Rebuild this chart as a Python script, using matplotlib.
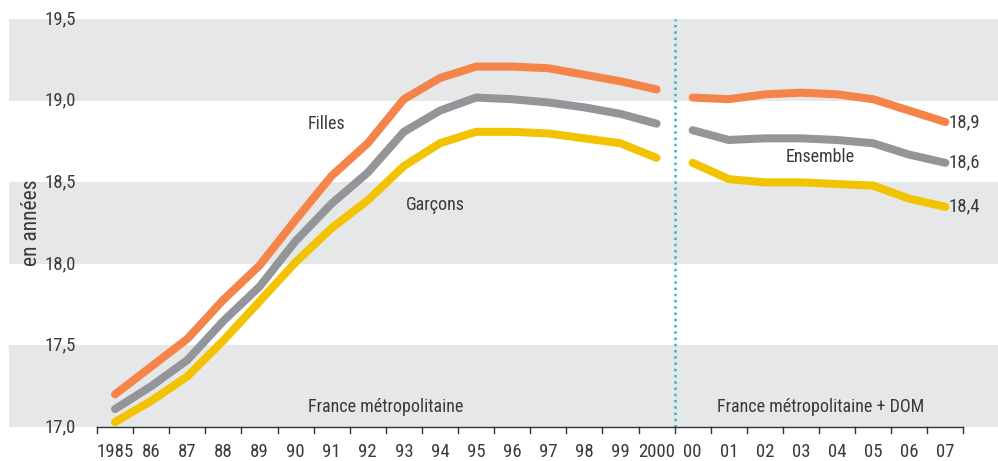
import matplotlib
matplotlib.use('Agg')
import matplotlib.pyplot as plt
import matplotlib.transforms as mtransforms
from matplotlib import font_manager

# Data (age in years)
years = ['1985', '86', '87', '88', '89', '90', '91', '92', '93', '94', '95', '96',
         '97', '98', '99', '2000', '00', '01', '02', '03', '04', '05', '06', '07']
filles = [17.20, 17.37, 17.54, 17.78, 17.99, 18.27, 18.54, 18.74, 19.01, 19.14, 19.21, 19.21,
          19.20, 19.16, 19.12, 19.07, 19.02, 19.01, 19.04, 19.05, 19.04, 19.01, 18.94, 18.87]
ensemble = [17.11, 17.25, 17.41, 17.65, 17.86, 18.14, 18.37, 18.56, 18.81, 18.94, 19.02, 19.01,
            18.99, 18.96, 18.92, 18.86, 18.82, 18.76, 18.77, 18.77, 18.76, 18.74, 18.67, 18.62]
garcons = [17.03, 17.16, 17.31, 17.53, 17.77, 18.01, 18.22, 18.39, 18.60, 18.74, 18.81, 18.81,
           18.80, 18.77, 18.74, 18.65, 18.62, 18.52, 18.50, 18.50, 18.49, 18.48, 18.40, 18.35]
end_labels = ['18,9', '18,6', '18,4']
yticks = [17.0, 17.5, 18.0, 18.5, 19.0, 19.5]

ORANGE = '#F4844A'
GREY = '#939598'
YELLOW = '#F2C300'
BAND = '#E6E7E8'
TXT = '#3A3A3A'
TEAL = '#2BBDC0'

names = {f.name for f in font_manager.fontManager.ttflist}
for cand in ['Liberation Sans Narrow', 'Roboto Condensed', 'DejaVu Sans']:
    if cand in names:
        FONT = cand
        break
plt.rcParams['font.family'] = [FONT, 'DejaVu Sans']
plt.rcParams['font.stretch'] = 'condensed'

W, H = 998, 461
fig = plt.figure(figsize=(W / 100, H / 100), dpi=100)
# axes spans from x=9px to 998px, y from 19px to 427px
ax = fig.add_axes([9 / W, (H - 427) / H, (998 - 9) / W, (427 - 19.3) / H])
ax.set_ylim(17.0, 19.5)
step = 36.1
ax.set_xlim(-0.5 - (97 - 9) / step, -0.5 + (998 - 97) / step)
ax.axis('off')

# grey bands
for lo in [17.0, 18.0, 19.0]:
    ax.axhspan(lo, lo + 0.5, color=BAND, lw=0, zorder=0)

n1 = 16  # metropolitan series 1985-2000
x = list(range(len(years)))
for vals, col in [(filles, ORANGE), (ensemble, GREY), (garcons, YELLOW)]:
    ax.plot(x[:n1], vals[:n1], color=col, lw=5.8, solid_capstyle='round',
            solid_joinstyle='round', clip_on=False, zorder=3)
    ax.plot(x[n1:], vals[n1:], color=col, lw=5.8, solid_capstyle='round',
            solid_joinstyle='round', clip_on=False, zorder=3)

# bottom axis with ticks at category boundaries
ax.plot([-0.5, len(years) - 0.5], [17.0, 17.0], color='#333333', lw=1, clip_on=False, zorder=4)
for b in range(len(years) + 1):
    ax.plot([b - 0.5, b - 0.5], [17.0, 17.0 - 6 / 163.1], color='#333333', lw=1,
            clip_on=False, zorder=4)
for i, lab in enumerate(years):
    ax.text(i, 17.0 - 25 / 163.1, lab, ha='center', va='center', fontsize=13.5, color=TXT)

# separator
ax.plot([n1 - 0.5, n1 - 0.5], [17.0, 19.5], color=TEAL, lw=1.8, ls=(0, (1, 1.5)), zorder=2)

# y tick labels
trans = mtransforms.blended_transform_factory(fig.transFigure, ax.transData)
for t in yticks:
    ax.text(76 / W, t, f'{t:.1f}'.replace('.', ','), transform=trans, ha='right',
            va='center', fontsize=13.5, color=TXT)
fig.text(32 / W, 1 - 223 / H, 'en années', rotation=90, ha='center', va='center',
         fontsize=15.5, color=TXT)

# annotations
ax.text(5.34, 18.86, 'Filles', ha='left', va='center', fontsize=13, color=TXT)
ax.text(8.06, 18.36, 'Garçons', ha='left', va='center', fontsize=13, color=TXT)
ax.text(19.53, 18.655, 'Ensemble', ha='center', va='center', fontsize=13, color=TXT)
ax.text(7.49, 17.12, 'France métropolitaine', ha='center', va='center', fontsize=13, color=TXT)
ax.text(19.54, 17.12, 'France métropolitaine + DOM', ha='center', va='center',
        fontsize=13, color=TXT)
for vals, lab in zip([filles, ensemble, garcons], end_labels):
    ax.text(len(years) - 1 + 0.08, vals[-1], lab, ha='left', va='center', fontsize=13.5, color=TXT)

fig.savefig('out.png', dpi=100, facecolor='white')
